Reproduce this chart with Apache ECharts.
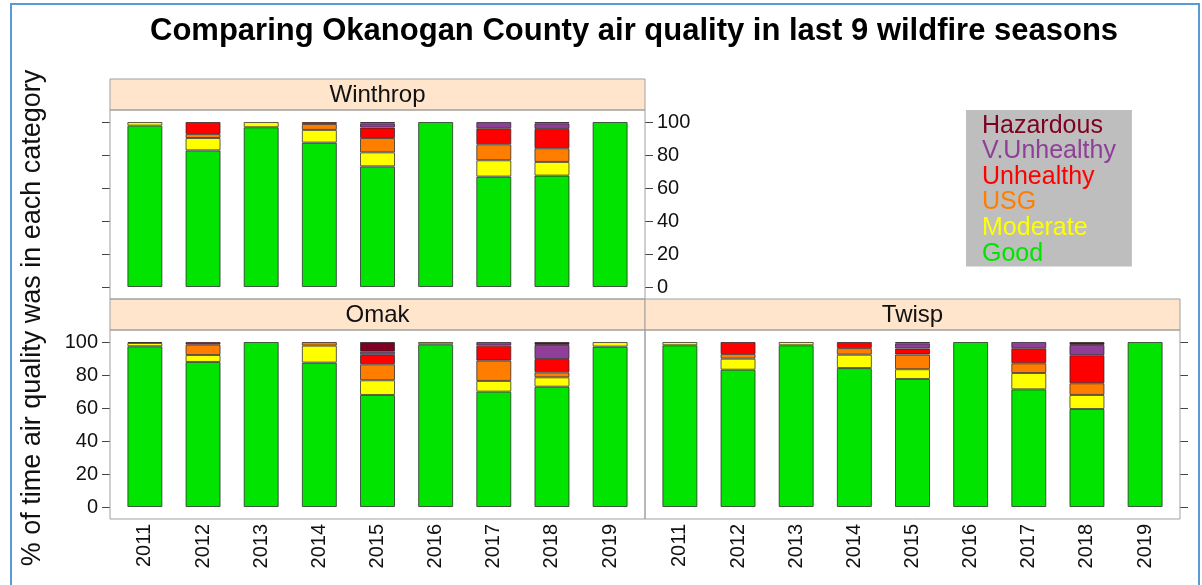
<!DOCTYPE html>
<html>
<head>
<meta charset="utf-8">
<script src="https://cdn.jsdelivr.net/npm/echarts@6/dist/echarts.min.js"></script>
<style>html,body{margin:0;padding:0;background:#fff;}#c{width:1202px;height:585px;}</style>
</head>
<body>
<div id="c"></div>
<script>
const years = ['2011','2012','2013','2014','2015','2016','2017','2018','2019'];
const categories = ['Good','Moderate','USG','Unhealthy','V.Unhealthy','Hazardous'];
const catColors = ['#00e400','#ffff00','#ff7e00','#ff0000','#8f3f97','#7e0023'];
const yTicks = [0,20,40,60,80,100];

// Winthrop
const winthropGood       = [97.8, 82.8, 96.8, 87.5, 73.1, 100, 66.9, 67.5, 100];
const winthropModerate   = [2.2, 7.5, 3.2, 7.7, 8.5, 0, 9.9, 8.3, 0];
const winthropUSG        = [0, 2.4, 0, 3.6, 8.7, 0, 9.7, 8.3, 0];
const winthropUnhealthy  = [0, 7.3, 0, 1.2, 6.3, 0, 9.7, 11.7, 0];
const winthropVUnhealthy = [0, 0, 0, 0, 2.6, 0, 3.8, 3.4, 0];
const winthropHazardous  = [0, 0, 0, 0, 0.8, 0, 0, 0.8, 0];
// Omak
const omakGood       = [97.4, 87.9, 100, 87.5, 67.9, 98.6, 69.9, 72.9, 97.2];
const omakModerate   = [2.0, 4.2, 0, 10.3, 8.9, 1.4, 6.5, 5.7, 2.8];
const omakUSG        = [0.6, 6.3, 0, 2.2, 9.7, 0, 12.3, 3.0, 0];
const omakUnhealthy  = [0, 1.6, 0, 0, 5.7, 0, 9.1, 8.1, 0];
const omakVUnhealthy = [0, 0, 0, 0, 1.9, 0, 2.2, 8.5, 0];
const omakHazardous  = [0, 0, 0, 0, 5.9, 0, 0, 1.8, 0];
// Twisp
const twispGood       = [98.0, 83.2, 98.0, 84.2, 77.6, 100, 71.3, 59.4, 100];
const twispModerate   = [2.0, 6.7, 2.0, 8.1, 5.9, 0, 9.9, 8.5, 0];
const twispUSG        = [0, 2.8, 0, 4.0, 8.9, 0, 5.9, 7.1, 0];
const twispUnhealthy  = [0, 7.3, 0, 3.7, 3.6, 0, 9.1, 17.0, 0];
const twispVUnhealthy = [0, 0, 0, 0, 3.2, 0, 3.8, 6.2, 0];
const twispHazardous  = [0, 0, 0, 0, 0.8, 0, 0, 1.8, 0];

const stations = [
  {name:'Winthrop', data:[winthropGood,winthropModerate,winthropUSG,winthropUnhealthy,winthropVUnhealthy,winthropHazardous]},
  {name:'Omak', data:[omakGood,omakModerate,omakUSG,omakUnhealthy,omakVUnhealthy,omakHazardous]},
  {name:'Twisp', data:[twispGood,twispModerate,twispUSG,twispUnhealthy,twispVUnhealthy,twispHazardous]}
];

const FONT = 'Liberation Sans, Arial, sans-serif';
// panel frames (outer box); the category band area is inset by PAD on each side
const panels = [
  {left:110, top:110, width:535, height:189},
  {left:110, top:330, width:535, height:189},
  {left:645, top:330, width:535, height:189}
];
const PAD = 5.8;
const YMIN = -7.27, YMAX = 107.27;

const grids = panels.map(p => ({left:p.left + PAD, top:p.top, width:p.width - 2*PAD, height:p.height, show:false}));

const xAxes = panels.map((p,i) => ({
  type:'category', gridIndex:i, data:years, boundaryGap:true,
  axisLine:{show:false}, splitLine:{show:false}, axisTick:{show:false},
  axisLabel:{show: i>0, rotate:90, margin:5, interval:0,
    fontSize:20, color:'#111', fontFamily:FONT}
}));

function yAx(grid, pos, labels){
  return {type:'value', gridIndex:grid, position:pos, offset:PAD, min:YMIN, max:YMAX,
    axisLine:{show:false}, splitLine:{show:false},
    axisTick:{show:true, customValues:yTicks, length:8, inside:false, lineStyle:{color:'#444'}},
    axisLabel:{show:labels, customValues:yTicks, margin:12, fontSize:20, color:'#111', fontFamily:FONT}};
}
const yAxes = [yAx(0,'left',false), yAx(0,'right',true), yAx(1,'left',true), yAx(2,'right',false)];
const yIdx = [0,2,3];

const series = [];
stations.forEach((st, si) => {
  categories.forEach((cat, ci) => {
    series.push({
      name:cat, type:'bar', stack:st.name, xAxisIndex:si, yAxisIndex:yIdx[si],
      barWidth:35, data: st.data[ci].map(v => v === 0 ? '-' : v),
      itemStyle:{color:catColors[ci], borderColor:'rgba(40,40,40,0.75)', borderWidth:1},
      emphasis:{disabled:true}, animation:false
    });
  });
});

const strips = [
  {x:110, y:79, w:535, label:'Winthrop'},
  {x:110, y:299, w:535, label:'Omak'},
  {x:645, y:299, w:535, label:'Twisp'}
];
const graphic = [
  {type:'rect', shape:{x:11, y:4, width:1188, height:700}, style:{fill:'none', stroke:'#5b9bd5', lineWidth:2}, z:100},
  {type:'text', x:33, y:318, rotation:Math.PI/2, style:{text:'% of time air quality was in each category',
    font:'27px ' + FONT, fill:'#111', align:'center', verticalAlign:'middle'}}
];
panels.forEach(p => {
  graphic.push({type:'rect', shape:{x:p.left, y:p.top, width:p.width, height:p.height},
    style:{fill:'none', stroke:'#a0a0a0', lineWidth:1}, z:50});
});
strips.forEach(s => {
  graphic.push({type:'rect', shape:{x:s.x, y:s.y, width:s.w, height:31}, style:{fill:'#ffe5cc', stroke:'#a0a0a0', lineWidth:1}});
  graphic.push({type:'text', x:s.x + s.w/2, y:s.y + 16, style:{text:s.label, font:'24px ' + FONT, fill:'#111', align:'center', verticalAlign:'middle'}});
});

const legendOrder = ['Hazardous','V.Unhealthy','Unhealthy','USG','Moderate','Good'];
const option = {
  animation:false,
  title:{text:'Comparing Okanogan County air quality in last 9 wildfire seasons', left:150, top:16, padding:0,
    textStyle:{fontSize:31, fontWeight:'bold', color:'#000', fontFamily:FONT}},
  legend:{orient:'vertical', left:966, top:110, selectedMode:false,
    backgroundColor:'#bebebe', padding:[3,16,0,10], itemGap:0, itemWidth:0, itemHeight:0,
    data: legendOrder.map(n => ({name:n, icon:'rect', itemStyle:{opacity:0},
      textStyle:{color:catColors[categories.indexOf(n)], fontSize:25, fontFamily:FONT, lineHeight:25.6}}))},
  grid:grids, xAxis:xAxes, yAxis:yAxes, series:series, graphic:graphic
};
const chart = echarts.init(document.getElementById('c'), null, {renderer:'canvas'});
chart.setOption(option);
</script>
</body>
</html>
